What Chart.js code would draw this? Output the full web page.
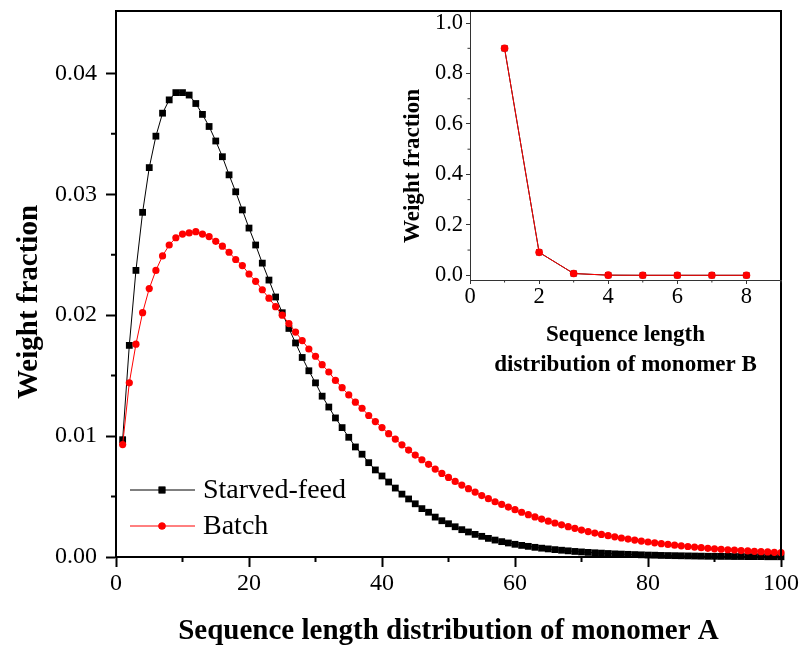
<!DOCTYPE html>
<html>
<head>
<meta charset="utf-8">
<script src="https://cdn.jsdelivr.net/npm/chart.js@4.4.1/dist/chart.umd.min.js"></script>
<style>
  html, body { margin: 0; padding: 0; background: #fff; }
  #wrap { position: relative; width: 801px; height: 646px; }
  #mainChart { position: absolute; left: 0; top: 0; }
  #insetChart { position: absolute; left: 380px; top: 0; }
</style>
</head>
<body>
<div id="wrap">
  <canvas id="mainChart" width="801" height="646"></canvas>
  <canvas id="insetChart" width="421" height="380"></canvas>
</div>
<script>
// Longitudes de secuencia (monómero A: 1..100, monómero B: 1..8)
const lengthsA = Array.from({ length: 100 }, (_, i) => i + 1);
const lengthsB = [1, 2, 3, 4, 5, 6, 7, 8];

// Fracción en peso, monómero A
const starvedA = [
    0.0097, 0.0175, 0.0237, 0.0285, 0.0322, 0.0348, 0.0367, 0.0378, 0.0384, 0.0384,
    0.0382, 0.0375, 0.0366, 0.0356, 0.0344, 0.0331, 0.0316, 0.0302, 0.0287, 0.0272,
    0.0258, 0.0243, 0.0229, 0.0215, 0.0202, 0.0189, 0.0177, 0.0165, 0.0154, 0.0144,
    0.0133, 0.0124, 0.0115, 0.0107, 0.0099, 0.0091, 0.0085, 0.0078, 0.0072, 0.0067,
    0.0062, 0.0057, 0.0052, 0.0048, 0.0044, 0.0040, 0.0037, 0.0033, 0.0030, 0.00275,
    0.0025, 0.00226, 0.00207, 0.00187, 0.00171, 0.00154, 0.0014, 0.00127, 0.00116, 0.00105,
    0.00096, 0.00088, 0.0008, 0.00073, 0.00067, 0.00061, 0.00056, 0.00051, 0.00046, 0.00042,
    0.00038, 0.00035, 0.00032, 0.00029, 0.00026, 0.00024, 0.00022, 0.0002, 0.00018, 0.00016,
    0.00015, 0.00013, 0.00012, 0.00011, 0.0001, 0.00009, 0.00008, 0.00007, 0.00006, 0.00006,
    0.00005, 0.00005, 0.00004, 0.00004, 0.00003, 0.00003, 0.00003, 0.00002, 0.00002, 0.00002
];
const batchA = [
    0.0093, 0.0144, 0.0176, 0.0202, 0.0222, 0.0237, 0.0249, 0.0258, 0.0264, 0.0267,
    0.0268, 0.0269, 0.0267, 0.0265, 0.0261, 0.0257, 0.0252, 0.0246, 0.0241, 0.0234,
    0.0228, 0.0221, 0.0214, 0.0207, 0.0200, 0.0193, 0.0186, 0.0179, 0.0172, 0.0166,
    0.0159, 0.0153, 0.0146, 0.0140, 0.0134, 0.0128, 0.0123, 0.0117, 0.0112, 0.0107,
    0.0102, 0.00975, 0.00928, 0.00884, 0.00843, 0.00804, 0.00766, 0.00727, 0.00691, 0.00658,
    0.00625, 0.00595, 0.00565, 0.00537, 0.00508, 0.00482, 0.00457, 0.00435, 0.00413, 0.00391,
    0.0037, 0.0035, 0.00331, 0.00314, 0.00296, 0.00281, 0.00266, 0.00251, 0.00237, 0.00223,
    0.0021, 0.00198, 0.00187, 0.00176, 0.00167, 0.00157, 0.00148, 0.0014, 0.00132, 0.00124,
    0.00117, 0.0011, 0.00104, 0.00098, 0.00092, 0.00087, 0.00082, 0.00077, 0.00072, 0.00068,
    0.00064, 0.0006, 0.00057, 0.00053, 0.0005, 0.00047, 0.00044, 0.00042, 0.00039, 0.00037
];

// Monómero B (inserto)
const starvedB = [0.9, 0.091, 0.007, 0.0005, 0, 0, 0, 0];
const batchB = [0.9, 0.091, 0.007, 0.0005, 0, 0, 0, 0];

// Marcas de los ejes
const xTicksA = [0, 20, 40, 60, 80, 100];
const xMinorA = [10, 30, 50, 70, 90];
const yTicksA = [0, 0.01, 0.02, 0.03, 0.04];
const yMinorA = [0.005, 0.015, 0.025, 0.035];
const xTicksB = [0, 2, 4, 6, 8];
const xMinorB = [1, 3, 5, 7, 9];
const yTicksB = [0, 0.2, 0.4, 0.6, 0.8, 1.0];
const yMinorB = [0.1, 0.3, 0.5, 0.7, 0.9];

const SERIF = "'Liberation Serif', 'Times New Roman', serif";

function pts(xs, ys) {
    return xs.map((x, i) => ({ x: x, y: ys[i] }));
}

function minorTicks(chart, xs, ys, len, color, width) {
    const ctx = chart.ctx;
    const a = chart.chartArea;
    const sx = chart.scales.x, sy = chart.scales.y;
    ctx.save();
    ctx.strokeStyle = color;
    ctx.lineWidth = width;
    ctx.beginPath();
    xs.forEach(v => {
        const px = sx.getPixelForValue(v);
        ctx.moveTo(px, a.bottom);
        ctx.lineTo(px, a.bottom + len);
    });
    ys.forEach(v => {
        const py = sy.getPixelForValue(v);
        ctx.moveTo(a.left, py);
        ctx.lineTo(a.left - len, py);
    });
    ctx.stroke();
    ctx.restore();
}

function vTitle(ctx, text, cx, cy, font) {
    ctx.save();
    ctx.translate(cx, cy);
    ctx.rotate(-Math.PI / 2);
    ctx.font = font;
    ctx.fillStyle = "#000";
    ctx.textAlign = "center";
    ctx.textBaseline = "middle";
    ctx.fillText(text, 0, 0);
    ctx.restore();
}

// sin relleno extra por etiquetas: el área queda donde dice layout.padding
function noPad(s) {
    s.paddingTop = 0;
    s.paddingBottom = 0;
    s.paddingLeft = 0;
    s.paddingRight = 0;
}

// ==========================
//   GRÁFICO PRINCIPAL
// ==========================
const mainExtras = {
    id: "mainExtras",
    afterDraw(chart) {
        const ctx = chart.ctx;
        const a = chart.chartArea;
        // marco superior y derecho
        ctx.save();
        ctx.strokeStyle = "#000";
        ctx.lineWidth = 2;
        ctx.beginPath();
        ctx.moveTo(a.left - 1, a.top);
        ctx.lineTo(a.right, a.top);
        ctx.lineTo(a.right, a.bottom + 1);
        ctx.stroke();
        ctx.restore();

        minorTicks(chart, xMinorA, yMinorA, 5, "#000", 2);
        vTitle(ctx, "Weight fraction", 30, 302, "bold 29px " + SERIF);

        // leyenda
        const items = [
            { label: "Starved-feed", color: "#000", style: "rect", r: 4.8, y: 490 },
            { label: "Batch", color: "#ff0000", style: "circle", r: 3.6, y: 526 }
        ];
        items.forEach(it => {
            ctx.save();
            ctx.strokeStyle = it.color;
            ctx.lineWidth = 1;
            ctx.beginPath();
            ctx.moveTo(130, it.y);
            ctx.lineTo(195, it.y);
            ctx.stroke();
            ctx.fillStyle = it.color;
            Chart.helpers.drawPoint(ctx, { pointStyle: it.style, radius: it.r, borderWidth: 0 }, 162, it.y);
            ctx.fill();
            ctx.font = "28px " + SERIF;
            ctx.fillStyle = "#000";
            ctx.textBaseline = "middle";
            ctx.fillText(it.label, 203, it.y + 1);
            ctx.restore();
        });
    }
};

new Chart(document.getElementById("mainChart"), {
    type: "line",
    data: {
        datasets: [
            {
                label: "Starved-feed",
                data: pts(lengthsA, starvedA),
                borderColor: "#000",
                backgroundColor: "#000",
                borderWidth: 1,
                pointStyle: "rect",
                pointRadius: 4.8,
                pointBorderWidth: 0,
                tension: 0,
                order: 1,
                clip: false
            },
            {
                label: "Batch",
                data: pts(lengthsA, batchA),
                borderColor: "#ff0000",
                backgroundColor: "#ff0000",
                borderWidth: 1,
                pointStyle: "circle",
                pointRadius: 3.6,
                pointBorderWidth: 0,
                tension: 0,
                order: 0,
                clip: false
            }
        ]
    },
    options: {
        responsive: false,
        animation: false,
        devicePixelRatio: 1,
        layout: { padding: { top: 11, right: 20, left: 0, bottom: 0 } },
        plugins: { legend: { display: false }, tooltip: { enabled: false } },
        scales: {
            x: {
                type: "linear",
                min: 0,
                max: 100,
                afterBuildTicks: s => { s.ticks = xTicksA.map(v => ({ value: v })); },
                afterFit: s => { s.height = 89; noPad(s); },
                grid: { drawOnChartArea: false, tickLength: 10, tickWidth: 2, tickColor: "#000" },
                border: { color: "#000", width: 2 },
                ticks: { color: "#000", padding: 2, maxRotation: 0, autoSkip: false, font: { family: SERIF, size: 24 } },
                title: {
                    display: true,
                    text: "Sequence length distribution of monomer A",
                    color: "#000",
                    padding: 0,
                    font: { family: SERIF, size: 29, weight: "bold", lineHeight: 1.0 }
                }
            },
            y: {
                min: 0,
                max: 0.04515,
                afterBuildTicks: s => { s.ticks = yTicksA.map(v => ({ value: v })); },
                afterFit: s => { s.width = 116; noPad(s); },
                grid: { drawOnChartArea: false, tickLength: 10, tickWidth: 2, tickColor: "#000" },
                border: { color: "#000", width: 2 },
                ticks: {
                    color: "#000",
                    padding: 9,
                    font: { family: SERIF, size: 24 },
                    callback: v => v.toFixed(2)
                }
            }
        }
    },
    plugins: [mainExtras]
});

// ==========================
//   INSERTO (monómero B)
// ==========================
const insetExtras = {
    id: "insetExtras",
    afterDraw(chart) {
        minorTicks(chart, xMinorB, yMinorB, 2.5, "#333", 1);
        vTitle(chart.ctx, "Weight fraction", 33, 166, "bold 23px " + SERIF);
    }
};

new Chart(document.getElementById("insetChart"), {
    type: "line",
    data: {
        datasets: [
            {
                label: "Starved-feed",
                data: pts(lengthsB, starvedB),
                borderColor: "#000",
                backgroundColor: "#222",
                borderWidth: 1,
                pointStyle: "rect",
                pointRadius: 4.4,
                pointBorderWidth: 0,
                order: 1,
                clip: false
            },
            {
                label: "Batch",
                data: pts(lengthsB, batchB),
                borderColor: "#ff0000",
                backgroundColor: "#ff0000",
                borderWidth: 1,
                pointStyle: "circle",
                pointRadius: 3.8,
                pointBorderWidth: 0,
                order: 0,
                clip: false
            }
        ]
    },
    options: {
        responsive: false,
        animation: false,
        devicePixelRatio: 1,
        layout: { padding: { top: 12, right: 20, left: 0, bottom: 0 } },
        plugins: { legend: { display: false }, tooltip: { enabled: false } },
        scales: {
            x: {
                type: "linear",
                min: 0,
                max: 9,
                afterBuildTicks: s => { s.ticks = xTicksB.map(v => ({ value: v })); },
                afterFit: s => { s.height = 100; noPad(s); },
                grid: { drawOnChartArea: false, tickLength: 4, tickWidth: 1, tickColor: "#333" },
                border: { color: "#333", width: 1 },
                ticks: { color: "#000", padding: 0, maxRotation: 0, autoSkip: false, font: { family: SERIF, size: 22.5 } },
                title: {
                    display: true,
                    text: ["Sequence length", "distribution of monomer B"],
                    color: "#000",
                    padding: 0,
                    font: { family: SERIF, size: 23, weight: "bold", lineHeight: 1.3 }
                }
            },
            y: {
                min: -0.0187,
                max: 1.044,
                afterBuildTicks: s => { s.ticks = yTicksB.map(v => ({ value: v })); },
                afterFit: s => { s.width = 90; noPad(s); },
                grid: { drawOnChartArea: false, tickLength: 4, tickWidth: 1, tickColor: "#333" },
                border: { color: "#333", width: 1 },
                ticks: {
                    color: "#000",
                    padding: 3,
                    font: { family: SERIF, size: 22.5 },
                    callback: v => v.toFixed(1)
                }
            }
        }
    },
    plugins: [insetExtras]
});
</script>
</body>
</html>
